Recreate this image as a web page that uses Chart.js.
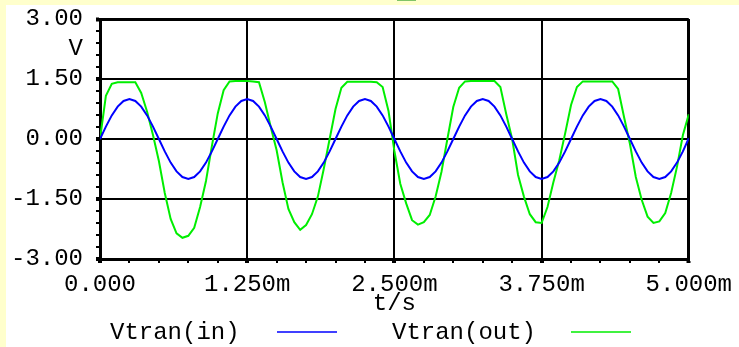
<!DOCTYPE html>
<html>
<head>
<meta charset="utf-8">
<script src="https://cdn.jsdelivr.net/npm/chart.js@4/dist/chart.umd.min.js"></script>
<style>
  html, body { margin: 0; padding: 0; background: #ffffcc; }
  #wrap { position: relative; width: 739px; height: 347px; }
</style>
</head>
<body>
<div id="wrap"><canvas id="scope" width="739" height="347"></canvas></div>
<script>
// time axis in ms
const timeMs = [
    0.00, 0.05, 0.10, 0.15, 0.20, 0.25, 0.30, 0.35, 0.40, 0.45,
    0.50, 0.55, 0.60, 0.65, 0.70, 0.75, 0.80, 0.85, 0.90, 0.95,
    1.00, 1.05, 1.10, 1.15, 1.20, 1.25, 1.30, 1.35, 1.40, 1.45,
    1.50, 1.55, 1.60, 1.65, 1.70, 1.75, 1.80, 1.85, 1.90, 1.95,
    2.00, 2.05, 2.10, 2.15, 2.20, 2.25, 2.30, 2.35, 2.40, 2.45,
    2.50, 2.55, 2.60, 2.65, 2.70, 2.75, 2.80, 2.85, 2.90, 2.95,
    3.00, 3.05, 3.10, 3.15, 3.20, 3.25, 3.30, 3.35, 3.40, 3.45,
    3.50, 3.55, 3.60, 3.65, 3.70, 3.75, 3.80, 3.85, 3.90, 3.95,
    4.00, 4.05, 4.10, 4.15, 4.20, 4.25, 4.30, 4.35, 4.40, 4.45,
    4.50, 4.55, 4.60, 4.65, 4.70, 4.75, 4.80, 4.85, 4.90, 4.95,
    5.00
];

// Vtran(in)
const vIn = [
    0.00, 0.31, 0.59, 0.81, 0.95, 1.00, 0.95, 0.81, 0.59, 0.31,
    0.00, -0.31, -0.59, -0.81, -0.95, -1.00, -0.95, -0.81, -0.59, -0.31,
    0.00, 0.31, 0.59, 0.81, 0.95, 1.00, 0.95, 0.81, 0.59, 0.31,
    0.00, -0.31, -0.59, -0.81, -0.95, -1.00, -0.95, -0.81, -0.59, -0.31,
    0.00, 0.31, 0.59, 0.81, 0.95, 1.00, 0.95, 0.81, 0.59, 0.31,
    0.00, -0.31, -0.59, -0.81, -0.95, -1.00, -0.95, -0.81, -0.59, -0.31,
    0.00, 0.31, 0.59, 0.81, 0.95, 1.00, 0.95, 0.81, 0.59, 0.31,
    0.00, -0.31, -0.59, -0.81, -0.95, -1.00, -0.95, -0.81, -0.59, -0.31,
    0.00, 0.31, 0.59, 0.81, 0.95, 1.00, 0.95, 0.81, 0.59, 0.31,
    0.00, -0.31, -0.59, -0.81, -0.95, -1.00, -0.95, -0.81, -0.59, -0.31,
    0.02
];

// Vtran(out)
const vOut = [
    0.00, 1.08, 1.38, 1.42, 1.42, 1.42, 1.42, 1.15, 0.68, 0.10,
    -0.55, -1.35, -2.00, -2.36, -2.47, -2.42, -2.22, -1.70, -1.05, -0.18,
    0.64, 1.22, 1.44, 1.45, 1.45, 1.45, 1.44, 1.42, 0.92, 0.30,
    -0.28, -1.08, -1.75, -2.08, -2.27, -2.15, -1.88, -1.44, -0.75, 0.00,
    0.75, 1.28, 1.43, 1.43, 1.43, 1.43, 1.43, 1.42, 1.30, 0.70,
    -0.30, -1.12, -1.61, -2.03, -2.14, -2.08, -1.90, -1.44, -0.82, 0.00,
    0.80, 1.28, 1.44, 1.45, 1.45, 1.45, 1.45, 1.45, 1.30, 0.62,
    0.00, -0.90, -1.44, -1.88, -2.08, -2.10, -1.70, -1.08, -0.53, 0.14,
    0.85, 1.30, 1.44, 1.44, 1.44, 1.44, 1.44, 1.44, 1.25, 0.55,
    -0.12, -0.95, -1.52, -1.94, -2.10, -2.06, -1.85, -1.35, -0.69, 0.10,
    0.62
];

const seriesNames = ["Vtran(in)", "Vtran(out)"];
const xMajor = 1.25, xMinor = 0.25;
const yMajor = 1.5, yMinor = 0.3;

const FONT = "'Courier New', 'Liberation Mono', monospace";
Chart.defaults.color = "#000";
Chart.defaults.font.family = FONT;
Chart.defaults.font.size = 24;

function isMajor(v, step) {
    const r = v / step;
    return Math.abs(r - Math.round(r)) < 1e-6;
}

function toPoints(ys) {
    return timeMs.map((t, i) => ({x: t, y: ys[i]}));
}

// white panel, the V unit label and the legend below the axis
const scopeDecor = {
    id: "scopeDecor",
    beforeDraw(chart) {
        const ctx = chart.ctx;
        ctx.save();
        ctx.fillStyle = "#fff";
        ctx.fillRect(6, 5, chart.width - 6, chart.height - 5);
        ctx.fillStyle = "#80c468";
        ctx.fillRect(397, 0, 19, 1);
        ctx.restore();
    },
    afterDraw(chart) {
        const ctx = chart.ctx;
        const ys = chart.scales.y;
        ctx.save();
        ctx.font = "24px " + FONT;
        ctx.fillStyle = "#000";
        ctx.textBaseline = "middle";
        ctx.textAlign = "right";
        ctx.fillText("V", 83, ys.getPixelForValue(2.25));

        ctx.textAlign = "left";
        const items = [
            {tx: 110, lx: 277},
            {tx: 392, lx: 571},
        ];
        chart.data.datasets.forEach((ds, i) => {
            const it = items[i];
            ctx.fillStyle = "#000";
            ctx.fillText(ds.label, it.tx, 333);
            ctx.strokeStyle = ds.borderColor;
            ctx.lineWidth = 1.5;
            ctx.beginPath();
            ctx.moveTo(it.lx, 332);
            ctx.lineTo(it.lx + 60, 332);
            ctx.stroke();
        });
        ctx.restore();
    }
};

new Chart(document.getElementById("scope"), {
    type: "line",
    data: {
        datasets: [
            {
                label: seriesNames[0],
                data: toPoints(vIn),
                borderColor: "#0000ff",
                borderWidth: 2,
                pointRadius: 0,
                tension: 0,
            },
            {
                label: seriesNames[1],
                data: toPoints(vOut),
                borderColor: "#00ee00",
                borderWidth: 2,
                pointRadius: 0,
                tension: 0,
            },
        ],
    },
    options: {
        responsive: false,
        animation: false,
        layout: {padding: {top: 19, right: 49, bottom: 0, left: 0}},
        plugins: {
            legend: {display: false},
            tooltip: {enabled: false},
        },
        scales: {
            x: {
                type: "linear",
                min: 0,
                max: 5,
                afterFit: (s) => { s.height = 88; },
                border: {display: true, color: "#000", width: 3},
                grid: {
                    color: (c) => isMajor(c.tick.value, xMajor) ? "#000" : "rgba(0,0,0,0)",
                    lineWidth: (c) => c.tick.value >= 5 ? 3 : 2,
                    tickColor: "#000",
                    tickLength: 4,
                    tickWidth: (c) => isMajor(c.tick.value, xMajor) ? 4 : 2,
                },
                ticks: {
                    stepSize: xMinor,
                    autoSkip: false,
                    maxRotation: 0,
                    padding: 7,
                    callback: (v) => {
                        if (!isMajor(v, xMajor)) return "";
                        return v === 0 ? "0.000" : v.toFixed(3) + "m";
                    },
                },
                title: {
                    display: true,
                    text: "t/s",
                    font: {size: 24, lineHeight: 1},
                    padding: {top: 0, bottom: 31},
                },
            },
            y: {
                min: -3,
                max: 3,
                afterFit: (s) => {
                    s.width = 100;
                    s.paddingTop = 0;
                    s.paddingBottom = 0;
                },
                border: {display: true, color: "#000", width: 3},
                grid: {
                    color: (c) => isMajor(c.tick.value, yMajor) ? "#000" : "rgba(0,0,0,0)",
                    lineWidth: (c) => c.tick.value >= 3 ? 3 : 2,
                    tickColor: "#000",
                    tickLength: 4,
                    tickWidth: (c) => isMajor(c.tick.value, yMajor) ? 4 : 2,
                },
                ticks: {
                    stepSize: yMinor,
                    autoSkip: false,
                    padding: 13,
                    callback: (v) => isMajor(v, yMajor) ? v.toFixed(2) : "",
                },
            },
        },
    },
    plugins: [scopeDecor],
});
</script>
</body>
</html>
